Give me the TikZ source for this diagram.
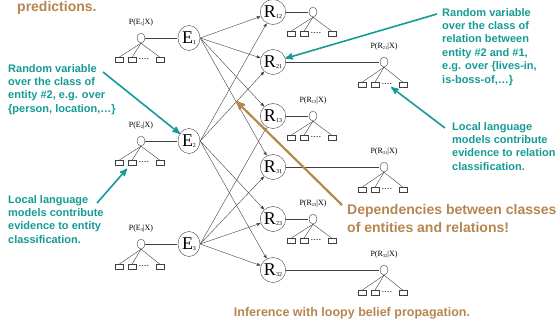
\documentclass[tikz,border=0pt]{standalone}
\usepackage{fontspec}
\setmainfont{Liberation Serif}
\newfontfamily\notefont{Liberation Sans}
\usepackage{tikz}
\usetikzlibrary{shapes,arrows,positioning}
\definecolor{noteteal}{RGB}{20,155,150}
\definecolor{notebrown}{RGB}{183,133,80}
\newcommand{\varsub}[1]{\raisebox{-1pt}{\fontsize{6}{6}\selectfont #1}}
\newcommand{\probsub}[1]{\raisebox{-0.5pt}{\fontsize{4.5}{4.5}\selectfont #1}}
\tikzstyle{var}=[ellipse,draw=black!75,minimum width=22pt,minimum height=25pt,
  inner sep=0pt,font=\fontsize{18}{18}\selectfont]
\tikzstyle{leaf}=[ellipse,draw=black!75,minimum width=8pt,minimum height=10pt,inner sep=0pt]
\tikzstyle{feat}=[rectangle,draw=black!75,minimum width=8pt,minimum height=5pt,inner sep=0pt]
\tikzstyle{featdots}=[inner sep=0pt,font=\fontsize{7}{7}\selectfont\bfseries]
\tikzstyle{prob}=[inner sep=0pt,font=\fontsize{8}{8}\selectfont]
\tikzstyle{note}=[anchor=north west,inner sep=0pt,align=left,text=noteteal,
  font=\notefont\bfseries\fontsize{11}{13.4}\selectfont]
\tikzstyle{bignote}=[inner sep=0pt,align=left,text=notebrown,
  font=\notefont\bfseries\fontsize{14}{18}\selectfont]
\tikzstyle{every edge}=[-,shorten >=0.5pt,thin,draw=black!75]

\begin{document}
\begin{tikzpicture}[x=1pt,y=-1pt,>=stealth']
        \useasboundingbox (0,0) rectangle (560,324);
        % Entity variables:
        \node (e_1) [var] at (189,38) {E\varsub{1}};
        \node (e_2) [var] at (189,141) {E\varsub{2}};
        \node (e_3) [var] at (189,244) {E\varsub{3}};
        % Relation variables:
        \node (r_12) [var] at (273,12) {R\varsub{12}};
        \node (r_21) [var] at (273,62) {R\varsub{21}};
        \node (r_13) [var] at (273,116) {R\varsub{13}};
        \node (r_31) [var] at (273,167) {R\varsub{31}};
        \node (r_23) [var] at (273,219) {R\varsub{23}};
        \node (r_32) [var] at (273,270) {R\varsub{32}};

        % Local model of E1:
        \node (t_e1) [leaf] at (141,38) {};
        \node (p_e1) [prob] at (141,23) {P(E\probsub{1}|X)};
        \node (b_e1_1) [feat] at (119,60) {};
        \node (b_e1_2) [feat] at (132,60) {};
        \node (d_e1) [featdots] at (144,59) {.\kern1pt.\kern1pt.\kern1pt.};
        \node (b_e1_3) [feat] at (160,60) {};
        % Local model of E2:
        \node (t_e2) [leaf] at (141,141) {};
        \node (p_e2) [prob] at (141,126) {P(E\probsub{2}|X)};
        \node (b_e2_1) [feat] at (119,163) {};
        \node (b_e2_2) [feat] at (132,163) {};
        \node (d_e2) [featdots] at (144,162) {.\kern1pt.\kern1pt.\kern1pt.};
        \node (b_e2_3) [feat] at (160,163) {};
        % Local model of E3:
        \node (t_e3) [leaf] at (141,244) {};
        \node (p_e3) [prob] at (141,229) {P(E\probsub{3}|X)};
        \node (b_e3_1) [feat] at (119,267) {};
        \node (b_e3_2) [feat] at (132,267) {};
        \node (d_e3) [featdots] at (144,266) {.\kern1pt.\kern1pt.\kern1pt.};
        \node (b_e3_3) [feat] at (160,267) {};

        % Local model of R12:
        \node (t_r12) [leaf] at (313,12) {};
        \node (p_r12) [prob] at (313,-3) {P(R\probsub{12}|X)};
        \node (b_r12_1) [feat] at (291,34) {};
        \node (b_r12_2) [feat] at (304,34) {};
        \node (d_r12) [featdots] at (316,33) {.\kern1pt.\kern1pt.\kern1pt.};
        \node (b_r12_3) [feat] at (332,34) {};
        % Local model of R21:
        \node (t_r21) [leaf] at (384,62) {};
        \node (p_r21) [prob] at (384,47) {P(R\probsub{21}|X)};
        \node (b_r21_1) [feat] at (362,85) {};
        \node (b_r21_2) [feat] at (375,85) {};
        \node (d_r21) [featdots] at (387,84) {.\kern1pt.\kern1pt.\kern1pt.};
        \node (b_r21_3) [feat] at (403,85) {};
        % Local model of R13:
        \node (t_r13) [leaf] at (313,116) {};
        \node (p_r13) [prob] at (313,101) {P(R\probsub{13}|X)};
        \node (b_r13_1) [feat] at (291,138) {};
        \node (b_r13_2) [feat] at (304,138) {};
        \node (d_r13) [featdots] at (316,137) {.\kern1pt.\kern1pt.\kern1pt.};
        \node (b_r13_3) [feat] at (332,138) {};
        % Local model of R31:
        \node (t_r31) [leaf] at (384,167) {};
        \node (p_r31) [prob] at (384,152) {P(R\probsub{31}|X)};
        \node (b_r31_1) [feat] at (362,190) {};
        \node (b_r31_2) [feat] at (375,190) {};
        \node (d_r31) [featdots] at (387,189) {.\kern1pt.\kern1pt.\kern1pt.};
        \node (b_r31_3) [feat] at (403,190) {};
        % Local model of R23:
        \node (t_r23) [leaf] at (313,219) {};
        \node (p_r23) [prob] at (313,204) {P(R\probsub{23}|X)};
        \node (b_r23_1) [feat] at (291,241) {};
        \node (b_r23_2) [feat] at (304,241) {};
        \node (d_r23) [featdots] at (316,240) {.\kern1pt.\kern1pt.\kern1pt.};
        \node (b_r23_3) [feat] at (332,241) {};
        % Local model of R32:
        \node (t_r32) [leaf] at (384,270) {};
        \node (p_r32) [prob] at (384,255) {P(R\probsub{32}|X)};
        \node (b_r32_1) [feat] at (362,293) {};
        \node (b_r32_2) [feat] at (375,293) {};
        \node (d_r32) [featdots] at (387,292) {.\kern1pt.\kern1pt.\kern1pt.};
        \node (b_r32_3) [feat] at (403,293) {};

        % Local models hooked to the variables:
        \path
        (t_e1) edge (e_1) (t_e2) edge (e_2) (t_e3) edge (e_3)
        (r_12) edge (t_r12) (r_21) edge (t_r21) (r_13) edge (t_r13)
        (r_31) edge (t_r31) (r_23) edge (t_r23) (r_32) edge (t_r32);
        \path
        (t_e1.south) edge (b_e1_1.north) edge (b_e1_2.north) edge (b_e1_3.north)
        (t_e2.south) edge (b_e2_1.north) edge (b_e2_2.north) edge (b_e2_3.north)
        (t_e3.south) edge (b_e3_1.north) edge (b_e3_2.north) edge (b_e3_3.north)
        (t_r12.south) edge (b_r12_1.north) edge (b_r12_2.north) edge (b_r12_3.north)
        (t_r21.south) edge (b_r21_1.north) edge (b_r21_2.north) edge (b_r21_3.north)
        (t_r13.south) edge (b_r13_1.north) edge (b_r13_2.north) edge (b_r13_3.north)
        (t_r31.south) edge (b_r31_1.north) edge (b_r31_2.north) edge (b_r31_3.north)
        (t_r23.south) edge (b_r23_1.north) edge (b_r23_2.north) edge (b_r23_3.north)
        (t_r32.south) edge (b_r32_1.north) edge (b_r32_2.north) edge (b_r32_3.north);

        % Entities to relations:
        \path[every edge/.append style={->}]
        (e_1.east) edge (r_12) edge (r_21) edge (r_13) edge (r_31)
        (e_2.east) edge (r_12) edge (r_21) edge (r_23) edge (r_32)
        (e_3.east) edge (r_13) edge (r_31) edge (r_23) edge (r_32);

        % Notes:
        \node (n_top) [bignote,anchor=base west] at (17,12) {predictions.};
        \node (n_ent) [note] at (8,64) {Random variable\\over the class of\\entity \#2, e.g. over\\\{person, location,\dots\}};
        \node (n_lle) [note] at (8,195) {Local language\\models contribute\\evidence to entity\\classification.};
        \node (n_rel) [note] at (442,8) {Random variable\\over the class of\\relation between\\entity \#2 and \#1,\\e.g. over \{lives-in,\\is-boss-of,\dots\}};
        \node (n_llr) [note] at (452,122) {Local language\\models contribute\\evidence to relation\\classification.};
        \node (n_dep) [bignote,anchor=north west] at (347,204) {Dependencies between classes\\of entities and relations!};
        \node (n_inf) [bignote,font=\notefont\bfseries\fontsize{12.5}{14}\selectfont] at (352,313) {Inference with loopy belief propagation.};

        \coordinate (a_1) at (103,72);
        \coordinate (a_2) at (97,203);
        \coordinate (a_3) at (437,14);
        \coordinate (a_4) at (445,128);
        \coordinate (a_5) at (342,205);
        \coordinate (d_tip) at (236,101);
        \draw[->,noteteal,line width=1.6pt] (a_1) -- (e_2);
        \draw[->,noteteal,line width=1.6pt,shorten >=4pt] (a_2) -- (b_e2_2);
        \draw[->,noteteal,line width=1.6pt] (a_3) -- (r_21);
        \draw[->,noteteal,line width=1.6pt,shorten >=4pt] (a_4) -- (d_r21);
        \draw[->,notebrown,line width=2.2pt] (a_5) -- (d_tip);
\end{tikzpicture}
\end{document}
